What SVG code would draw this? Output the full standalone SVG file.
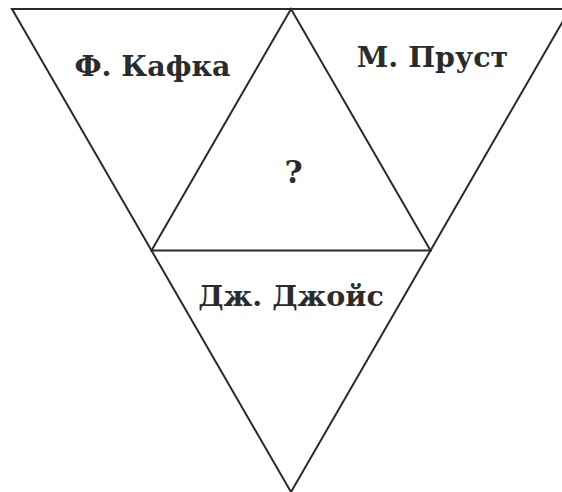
<svg xmlns="http://www.w3.org/2000/svg" width="562" height="492" viewBox="0 0 562 492">
<style>
.ln{stroke:#2b2b2b;stroke-width:2;fill:none;stroke-linejoin:miter}
.t{font-family:"DejaVu Serif","Liberation Serif",serif;font-weight:bold;font-size:28.5px;fill:#2b2b2b;text-anchor:middle}
</style>
<rect width="562" height="492" fill="#fff"/>
<g id="connectors">
<polygon class="ln" points="12,9 570,9 291,492"/>
<polygon class="ln" points="291,9 151.5,250.5 430.5,250.5"/>
</g>
<g id="kafka"><text class="t" x="152.5" y="76">Ф. Кафка</text></g>
<g id="proust"><text class="t" x="432.5" y="67">М. Пруст</text></g>
<g id="center"><text class="t" x="293.5" y="183" style="font-size:31px">?</text></g>
<g id="joyce"><text class="t" x="291" y="306">Дж. Джойс</text></g>
</svg>
